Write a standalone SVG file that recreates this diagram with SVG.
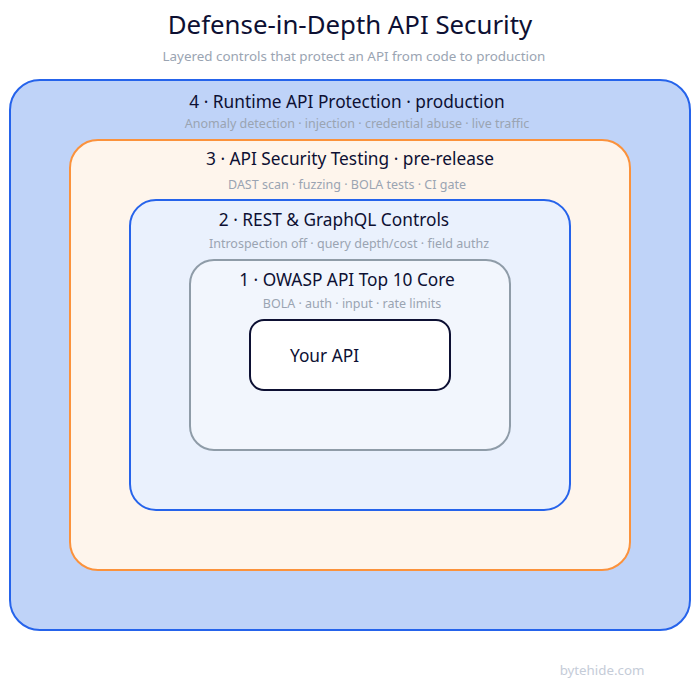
<svg xmlns="http://www.w3.org/2000/svg" width="700" height="687" viewBox="0 0 700 687">
<style>
text{font-family:"Noto Sans","Lato","Liberation Sans",sans-serif;text-anchor:middle}
.title{font-size:25.8px;fill:#0d1033}
.sub{font-size:13.4px;fill:#9aa4b2}
.lbl{font-size:17.3px;fill:#0d1033}
.desc{font-size:12.5px;fill:#9aa4b2}
.blue{stroke:#2563eb;stroke-width:2}
</style>
<rect width="700" height="687" fill="#ffffff"/>
<text class="title" x="350" y="34">Defense-in-Depth API Security</text>
<text class="sub" x="354" y="61">Layered controls that protect an API from code to production</text>
<g id="layer4">
<rect x="10" y="80" width="680" height="550" rx="30" fill="#bfd3f8" class="blue"/>
<text class="lbl" x="347" y="108">4 · Runtime API Protection · production</text>
<text class="desc" x="357" y="128">Anomaly detection · injection · credential abuse · live traffic</text>
</g>
<g id="layer3">
<rect x="70" y="140" width="560" height="430" rx="28" fill="#fef5ec" stroke="#fb923c" stroke-width="2"/>
<text class="lbl" x="350" y="165">3 · API Security Testing · pre-release</text>
<text class="desc" x="347" y="189">DAST scan · fuzzing · BOLA tests · CI gate</text>
</g>
<g id="layer2">
<rect x="130" y="200" width="440" height="310" rx="26" fill="#eaf1fd" class="blue"/>
<text class="lbl" x="334" y="226">2 · REST &amp; GraphQL Controls</text>
<text class="desc" x="349" y="248">Introspection off · query depth/cost · field authz</text>
</g>
<g id="layer1">
<rect x="190" y="260" width="320" height="190" rx="24" fill="#f2f6fd" stroke="#8f9ca8" stroke-width="2"/>
<text class="lbl" x="347" y="286">1 · OWASP API Top 10 Core</text>
<text class="desc" x="352" y="308">BOLA · auth · input · rate limits</text>
</g>
<g id="your-api">
<rect x="250" y="320" width="200" height="70" rx="14" fill="#ffffff" stroke="#0d1033" stroke-width="2"/>
<text class="lbl" x="290" y="362" style="text-anchor:start">Your API</text>
</g>
<text x="602" y="675" style="font-size:13.3px;fill:#c5ccd8">bytehide.com</text>
</svg>
